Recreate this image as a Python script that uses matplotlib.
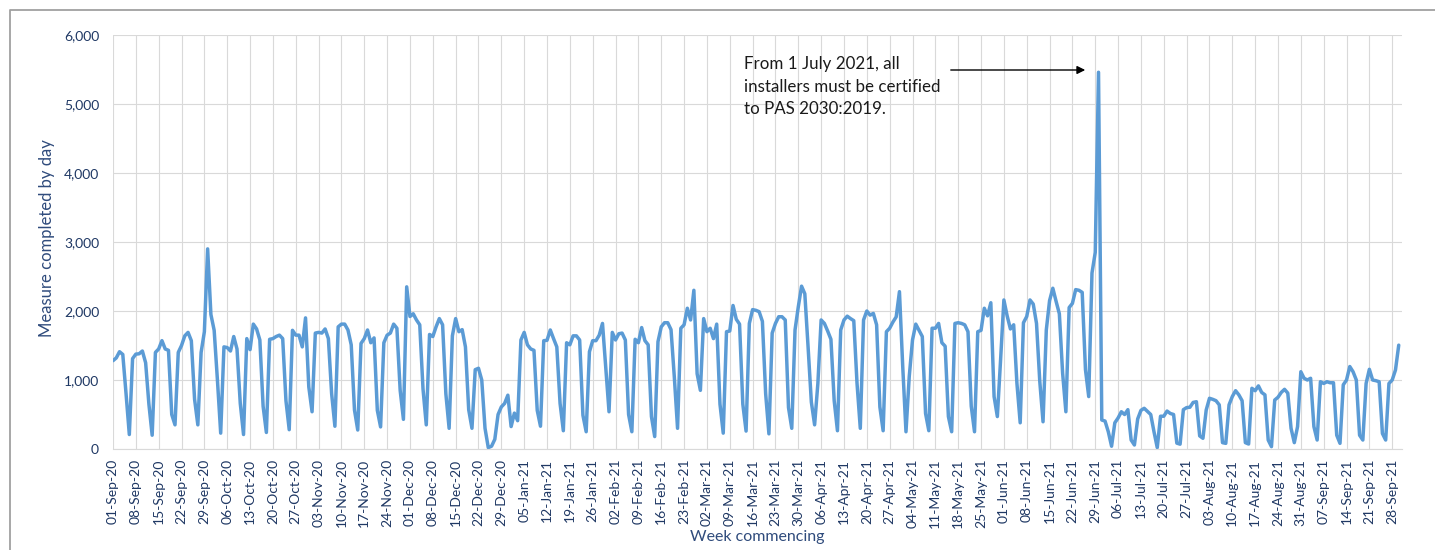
import numpy as np
import pandas as pd
import matplotlib
matplotlib.use("Agg")
import matplotlib.pyplot as plt
import matplotlib.dates as mdates
from matplotlib.ticker import FuncFormatter
from matplotlib.lines import Line2D

plt.rcParams['font.family'] = ['Lato', 'DejaVu Sans']

# measures completed per day, one list per month (Sep 2020 - Sep 2021)
sep20 = [1280, 1320, 1410, 1370, 800, 210, 1310, 1375, 1380, 1420, 1250, 650, 200, 1400,
         1450, 1570, 1450, 1430, 500, 350, 1400, 1500, 1640, 1690, 1570, 720, 350, 1400,
         1700, 2900]
oct20 = [1950, 1720, 1000, 230, 1480, 1470, 1420, 1630, 1450, 660, 210, 1600,
         1440, 1810, 1740, 1580, 620, 240, 1590, 1600, 1630, 1650, 1600, 700, 280, 1720,
         1650, 1650, 1480, 1900, 900]
nov20 = [540, 1680, 1690, 1680, 1740, 1600, 800, 330, 1770, 1810, 1810, 1725, 1510, 565,
         275, 1530, 1600, 1725, 1540, 1610, 560, 320, 1540, 1650, 1680, 1810, 1750, 850,
         430, 2350]
dec20 = [1920, 1960, 1870, 1800, 870, 350, 1660, 1630, 1770, 1890, 1800, 800, 300, 1640,
         1890, 1700, 1730, 1480, 570, 300, 1150, 1170, 1000, 300, 20, 40, 140, 500,
         610, 660, 780]
jan21 = [325, 520, 410, 1580, 1690, 1510, 1450, 1430, 560, 330, 1570, 1575, 1725, 1600,
         1480, 660, 265, 1540, 1510, 1640, 1640, 1580, 490, 250, 1410, 1570, 1570, 1650,
         1820, 1190, 540]
feb21 = [1690, 1580, 1670, 1680, 1580, 500, 250, 1590, 1540, 1760, 1570, 1510, 470, 180,
         1555, 1770, 1830, 1830, 1730, 1050, 300, 1750, 1800, 2040, 1870, 2300, 1090, 850]
mar21 = [1890, 1700, 1750, 1600, 1810, 650, 230, 1700, 1710, 2080, 1880, 1810, 650, 260,
         1820, 2020, 2010, 1990, 1850, 800, 220, 1680, 1820, 1917, 1917, 1870, 600, 300,
         1725, 2060, 2360]
apr21 = [2250, 1480, 680, 350, 950, 1870, 1820, 1710, 1590, 700, 265, 1725, 1870, 1925,
         1890, 1860, 950, 300, 1870, 2000, 1940, 1965, 1800, 610, 265, 1700, 1750, 1840,
         1915, 2280]
may21 = [1200, 250, 1050, 1580, 1810, 1720, 1630, 515, 265, 1750, 1750, 1820, 1540, 1490,
         470, 250, 1820, 1830, 1820, 1800, 1700, 620, 250, 1700, 1720, 2040, 1930, 2120,
         760, 470, 1300]
jun21 = [2160, 1930, 1740, 1800, 950, 380, 1830, 1920, 2160, 2100, 1820, 980, 395, 1725,
         2150, 2330, 2140, 1960, 1100, 540, 2050, 2110, 2310, 2300, 2270, 1150, 760, 2550,
         2850, 5460]
jul21 = [420, 405, 250, 40, 380, 450, 540, 500, 570, 130, 58, 435, 560, 590, 545, 500,
         250, 20, 475, 475, 550, 515, 500, 85, 70, 570, 600, 605, 675, 685, 190]
aug21 = [155, 565, 735, 720, 700, 640, 92, 82, 640, 760, 845, 785, 700, 92, 72, 880,
         845, 915, 820, 785, 130, 34, 710, 750, 820, 865, 810, 300, 92, 325, 1120]
sep21 = [1025, 1000, 1025, 325, 130, 975, 950, 975, 960, 960, 200, 82, 930, 1000, 1195,
         1120, 1000, 200, 130, 950, 1155, 1000, 990, 975, 225, 130, 950, 1000, 1145, 1505]

months = [sep20, oct20, nov20, dec20, jan21, feb21, mar21, apr21, may21, jun21, jul21, aug21, sep21]
values = np.concatenate(months)
days = pd.date_range("2020-09-01", periods=len(values), freq="D")
week_ticks = pd.date_range("2020-09-01", "2021-09-28", freq="7D")
y_ticks = [0, 1000, 2000, 3000, 4000, 5000, 6000]

note = "From 1 July 2021, all\ninstallers must be certified\nto PAS 2030:2019."

W, H = 1435, 550
navy = "#1F3864"
title_col = "#2F4B7C"

fig = plt.figure(figsize=(W / 100, H / 100), dpi=100)
ax = fig.add_axes([113 / W, 1 - 449 / H, (1402 - 113) / W, (449 - 35) / H])

ax.plot(days, values, color="#5B9BD5", lw=2.5, solid_joinstyle="round", solid_capstyle="round")

ax.set_xlim(pd.Timestamp("2020-09-01"), pd.Timestamp("2021-10-01"))
ax.set_ylim(0, 6000)
ax.set_xticks(week_ticks)
ax.xaxis.set_major_formatter(mdates.DateFormatter("%d-%b-%y"))
ax.set_yticks(y_ticks)
ax.yaxis.set_major_formatter(FuncFormatter(lambda v, p: f"{v:,.0f}"))

ax.tick_params(axis="x", labelrotation=90, length=0, pad=7, labelsize=10, labelcolor=navy)
ax.tick_params(axis="y", length=0, pad=10, labelsize=10, labelcolor=navy)
for lab in ax.get_xticklabels():
    lab.set_horizontalalignment("center")

ax.grid(True, color="#D9D9D9", lw=0.8)
ax.set_axisbelow(True)
for s in ["top", "right", "left"]:
    ax.spines[s].set_visible(False)
ax.spines["bottom"].set_color("#D9D9D9")
ax.spines["bottom"].set_linewidth(0.8)

# axis titles
fig.text(47 / W, 1 - 238 / H, "Measure completed by day", rotation=90,
         ha="center", va="center", fontsize=12, color=title_col)
fig.text(757 / W, 1 - 537 / H, "Week commencing", ha="center", va="center",
         fontsize=11.5, color=title_col)

# annotation
fig.text(744 / W, 1 - 56 / H, note, ha="left", va="top", fontsize=12.2,
         linespacing=1.5, color="#1A1A1A")
ax.annotate("", xy=(1088 / W, 1 - 70 / H), xytext=(948 / W, 1 - 70 / H),
            xycoords="figure fraction", textcoords="figure fraction",
            arrowprops=dict(arrowstyle="-|>", color="black", lw=1, mutation_scale=12))

# chart frame (partly cropped)
fig.add_artist(Line2D([10 / W, 10 / W, 1], [0, 1 - 10 / H, 1 - 10 / H],
                      transform=fig.transFigure, color="#A0A0A0", lw=1.3))

fig.savefig("out.png", dpi=100)
